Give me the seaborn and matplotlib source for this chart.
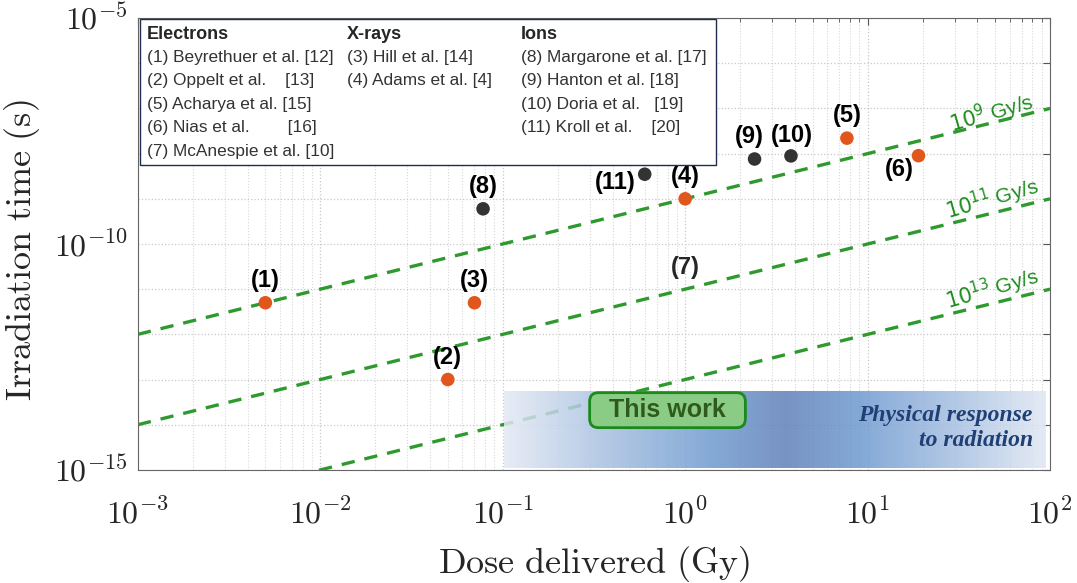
import numpy as np
import pandas as pd
import matplotlib
matplotlib.use('Agg')
import matplotlib.pyplot as plt
import seaborn as sns
from matplotlib.colors import LinearSegmentedColormap
from matplotlib.ticker import LogLocator, FuncFormatter, NullFormatter

# data
labels = ['(1)', '(2)', '(3)', '(4)', '(5)', '(6)', '(8)', '(9)', '(10)', '(11)']
dose = [0.005, 0.05, 0.07, 1.0, 7.7, 19.0, 0.078, 2.4, 3.8, 0.6]
irr_time = [5e-12, 1e-13, 5e-12, 1e-9, 2.2e-8, 9e-9, 6e-10, 7.6e-9, 8.9e-9, 3.5e-9]
beam = ['e', 'e', 'x', 'x', 'e', 'e', 'ion', 'ion', 'ion', 'ion']

rates = [1e9, 1e11, 1e13]
rate_labels = ['$10^{9}$ Gy/s', '$10^{11}$ Gy/s', '$10^{13}$ Gy/s']
rate_label_y = [8e-8, 1e-9, 1e-11]

col_electrons = ['(1) Beyrethuer et al. [12]', '(2) Oppelt et al.    [13]', '(5) Acharya et al. [15]',
                 '(6) Nias et al.        [16]', '(7) McAnespie et al. [10]']
col_xrays = ['(3) Hill et al. [14]', '(4) Adams et al. [4]']
col_ions = ['(8) Margarone et al. [17]', '(9) Hanton et al. [18]', '(10) Doria et al.   [19]',
            '(11) Kroll et al.    [20]']

# label offsets in points
offsets = {'(6)': (-14, -10), '(11)': (-21, -6), '(9)': (-4, 16), '(10)': (1, 15)}

sns.set_theme(style='white')
plt.rcParams['mathtext.fontset'] = 'cm'
plt.rcParams['font.family'] = ['Liberation Sans', 'DejaVu Sans']

fig = plt.figure(figsize=(10.77, 5.83), dpi=100)
ax = fig.add_axes([0.128, 0.194, 0.847, 0.775])
ax.set_xscale('log')
ax.set_yscale('log')
ax.set_xlim(1e-3, 1e2)
ax.set_ylim(1e-15, 1e-5)

# grid
ax.grid(True, which='major', color='#c8c8c8', linestyle=':', linewidth=0.9)
ax.grid(True, which='minor', axis='x', color='#d8d8d8', linestyle=':', linewidth=0.8)

# gradient band (drawn over the rate lines, slightly see-through)
cmap = LinearSegmentedColormap.from_list('band', [
    (0.0, '#e3e9f4'), (0.18, '#a9c1e1'), (0.38, '#6f9bcf'), (0.52, '#5f80b9'),
    (0.66, '#6e9ad0'), (0.84, '#a8c1e2'), (1.0, '#e0e7f3')])
grad = np.linspace(0, 1, 256).reshape(1, -1)
ax.imshow(grad, cmap=cmap, aspect='auto', extent=[0.401, 0.995, 0.004, 0.173],
          transform=ax.transAxes, zorder=2.5, alpha=0.85)

# rate lines
for r in rates:
    d = pd.DataFrame({'dose': [1e-3, 1e2], 'time': [1e-3 / r, 1e2 / r]})
    sns.lineplot(data=d, x='dose', y='time', ax=ax, color='#2e9a2e', linewidth=2.4,
                 linestyle=(0, (4, 3)), zorder=2)
for txt, yy in zip(rate_labels, rate_label_y):
    ax.text(48, yy, txt, color='#1e8c1e', fontsize=15, rotation=16, ha='center', va='center',
            math_fontfamily='dejavusans', zorder=3)

# points
df = pd.DataFrame({'dose': dose, 'time': irr_time, 'beam': beam, 'label': labels})
sns.scatterplot(data=df, x='dose', y='time', hue='beam', ax=ax, s=95, edgecolor='none',
                palette={'e': '#e0561c', 'x': '#e0561c', 'ion': '#333333'}, legend=False, zorder=4)
for _, row in df.iterrows():
    off = offsets.get(row['label'], (0, 16))
    ax.annotate(row['label'], (row['dose'], row['time']), xytext=off, textcoords='offset points',
                ha='center', va='center', fontsize=17, fontweight='bold', color='black', zorder=5)
ax.text(1.0, 3e-11, '(7)', ha='center', va='center', fontsize=17, fontweight='bold', zorder=5)

# This work box
ax.text(0.8, 2.1e-14, '  This work  ', ha='center', va='center', fontsize=18, fontweight='bold',
        color='#2f5a1f', zorder=6,
        bbox=dict(boxstyle='round,pad=0.22,rounding_size=0.35', facecolor='#8acb86',
                  edgecolor='#1a8a1a', linewidth=2))
ax.text(0.981, 0.093, 'Physical response\nto radiation', transform=ax.transAxes, ha='right',
        va='center', fontsize=17, fontstyle='italic', fontweight='bold', color='#1f3f75',
        family=['Liberation Serif', 'DejaVu Serif'], linespacing=1.25, zorder=6)

# legend box
box = plt.Rectangle((0.002, 0.675), 0.632, 0.323, transform=ax.transAxes, facecolor='white',
                    edgecolor='#1f2d50', linewidth=1.0, zorder=7)
ax.add_patch(box)
col_x = [0.01, 0.229, 0.42]
heads = ['Electrons', 'X-rays', 'Ions']
for cx, head, rows in zip(col_x, heads, [col_electrons, col_xrays, col_ions]):
    ax.text(cx, 0.963, head, transform=ax.transAxes, fontsize=13, fontweight='bold',
            va='center', ha='left', zorder=8)
    for i, t in enumerate(rows):
        ax.text(cx, 0.913 - i * 0.052, t, transform=ax.transAxes, fontsize=12.4, color='#333333',
                va='center', ha='left', zorder=8)

# ticks
ax.xaxis.set_major_locator(LogLocator(base=10, numticks=20))
ax.xaxis.set_minor_locator(LogLocator(base=10, subs=np.arange(2, 10), numticks=20))
ax.xaxis.set_minor_formatter(NullFormatter())
ax.yaxis.set_major_locator(LogLocator(base=10, numticks=20))
ax.yaxis.set_minor_locator(LogLocator(base=10, subs=[], numticks=20))
ax.xaxis.set_major_formatter(FuncFormatter(lambda v, p: r'$10^{%d}$' % round(np.log10(v))))
ax.yaxis.set_major_formatter(FuncFormatter(
    lambda v, p: r'$10^{%d}$' % round(np.log10(v)) if round(np.log10(v)) % 5 == 0 else ''))
ax.tick_params(which='both', direction='in', top=True, right=True, labelsize=23, color='#555555')
ax.tick_params(which='major', length=5, width=0.8)
ax.tick_params(which='minor', length=3, width=0.6)
ax.tick_params(axis='x', which='major', pad=21)
ax.tick_params(axis='y', which='major', pad=7)
for s in ax.spines.values():
    s.set_color('#666666')
    s.set_linewidth(0.8)

ax.set_xlabel(r'$\mathrm{Dose\ delivered\ (Gy)}$', fontsize=26)
ax.set_ylabel(r'$\mathrm{Irradiation\ time\ (s)}$', fontsize=26)
ax.xaxis.set_label_coords(0.5, -0.163)
ax.yaxis.set_label_coords(-0.105, 0.487)

fig.savefig('out.png', dpi=100)
